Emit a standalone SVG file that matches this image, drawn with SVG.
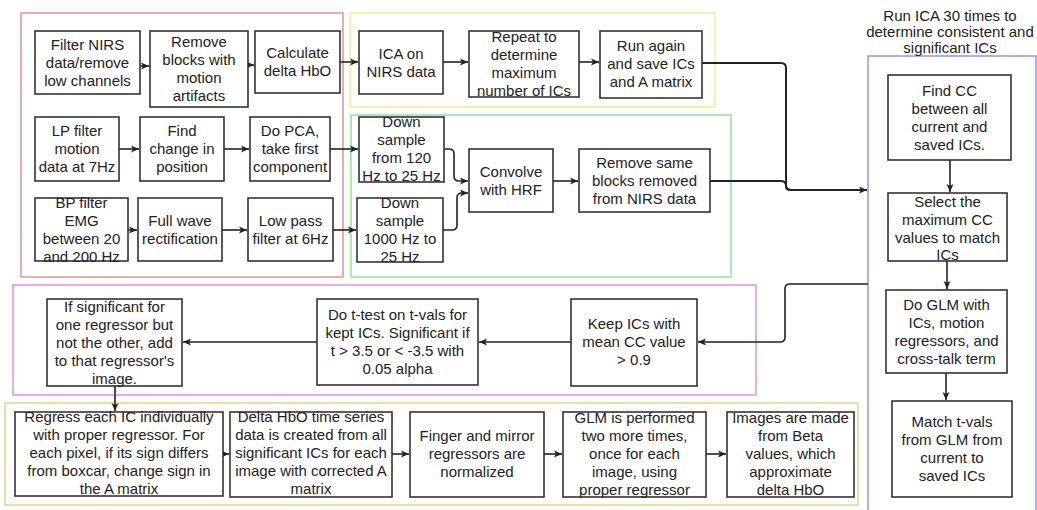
<svg xmlns="http://www.w3.org/2000/svg" width="1037" height="510" viewBox="0 0 1037 510">
<style>
.bg{fill:#ffffff}
.grp{fill:none;stroke-width:1.5}
.box{fill:#ffffff;stroke:#333333;stroke-width:1.6}
.t{font-family:"Liberation Sans",Arial,sans-serif;font-size:15px;fill:#222222;text-anchor:middle}
.c{fill:none;stroke:#222222;stroke-width:1.6}
.cb{fill:none;stroke:#222222;stroke-width:2}
</style>
<defs>
<marker id="ah" markerWidth="9" markerHeight="8" refX="8" refY="4" orient="auto" markerUnits="userSpaceOnUse">
<path d="M0,0.5 L8,4 L0,7.5 L2,4 z" fill="#222222"/>
</marker>
</defs>
<rect class="bg" x="0" y="0" width="1037" height="510"/>

<g id="containers">
<rect id="grp-red" class="grp" x="21" y="13" width="322" height="264" stroke="#e89090"/>
<rect id="grp-yellow" class="grp" x="350" y="13" width="365" height="94" stroke="#f2ee8a"/>
<rect id="grp-green" class="grp" x="351" y="115" width="380" height="162" stroke="#90e690"/>
<rect id="grp-blue" class="grp" x="868" y="56" width="168" height="470" stroke="#9090ff"/>
<rect id="grp-magenta" class="grp" x="13" y="285" width="743" height="110" stroke="#e090e0"/>
<rect id="grp-orange" class="grp" x="5" y="403" width="853" height="102" stroke="#f0d080"/>
<text class="t" x="950" y="21">Run ICA 30 times to</text>
<text class="t" x="950" y="37">determine consistent and</text>
<text class="t" x="950" y="53">significant ICs</text>
</g>

<g id="connectors">
<path class="c" d="M140,66 H149" marker-end="url(#ah)"/>
<path class="c" d="M248,65 H254" marker-end="url(#ah)"/>
<path class="c" d="M340,62 H358" marker-end="url(#ah)"/>
<path class="c" d="M443,62 H468" marker-end="url(#ah)"/>
<path class="c" d="M579,62 H599" marker-end="url(#ah)"/>
<path class="c" d="M119,149 H139" marker-end="url(#ah)"/>
<path class="c" d="M224,149 H249" marker-end="url(#ah)"/>
<path class="c" d="M330,149 H358" marker-end="url(#ah)"/>
<path class="c" d="M128,230 H137" marker-end="url(#ah)"/>
<path class="c" d="M222,230 H247" marker-end="url(#ah)"/>
<path class="c" d="M333,230 H356" marker-end="url(#ah)"/>
<path class="c" d="M444,149 H449 Q454,149 454,154 V176 Q454,181 459,181 H468" marker-end="url(#ah)"/>
<path class="c" d="M443,230 H452 Q457,230 457,225 V198 Q457,193 462,193 H468" marker-end="url(#ah)"/>
<path class="c" d="M553,181 H578" marker-end="url(#ah)"/>
<path class="cb" d="M702,63 H781 Q786,63 786,68 V185 Q786,190 791,190 H867" marker-end="url(#ah)"/>
<path class="cb" d="M710,181 H781 Q786,181 786,186 Q786,190 791,190"/>
<path class="c" d="M950,160 V192" marker-end="url(#ah)"/>
<path class="c" d="M947,261 V289" marker-end="url(#ah)"/>
<path class="c" d="M946,373 V400" marker-end="url(#ah)"/>
<path class="c" d="M868,284 H790 Q785,284 785,289 V337 Q785,342 780,342 H698" marker-end="url(#ah)"/>
<path class="c" d="M571,342 H479" marker-end="url(#ah)"/>
<path class="c" d="M317,342 H183" marker-end="url(#ah)"/>
<path class="c" d="M115,386 V411" marker-end="url(#ah)"/>
<path class="c" d="M223,454 H229" marker-end="url(#ah)"/>
<path class="c" d="M392,454 H409" marker-end="url(#ah)"/>
<path class="c" d="M544,454 H562" marker-end="url(#ah)"/>
<path class="c" d="M706,454 H726" marker-end="url(#ah)"/>
</g>

<g id="n1"><rect class="box" x="35" y="31" width="105" height="63"/>
<text class="t" x="87.5" y="50">Filter NIRS</text><text class="t" x="87.5" y="68">data/remove</text><text class="t" x="87.5" y="86">low channels</text></g>
<g id="n2"><rect class="box" x="150" y="31" width="98" height="76"/>
<text class="t" x="199" y="47">Remove</text><text class="t" x="199" y="65">blocks with</text><text class="t" x="199" y="83">motion</text><text class="t" x="199" y="101">artifacts</text></g>
<g id="n3"><rect class="box" x="255" y="31" width="85" height="62"/>
<text class="t" x="297.5" y="58">Calculate</text><text class="t" x="297.5" y="76">delta HbO</text></g>
<g id="n4"><rect class="box" x="35" y="117" width="84" height="64"/>
<text class="t" x="77" y="136">LP filter</text><text class="t" x="77" y="154">motion</text><text class="t" x="77" y="172">data at 7Hz</text></g>
<g id="n5"><rect class="box" x="140" y="117" width="84" height="64"/>
<text class="t" x="182" y="136">Find</text><text class="t" x="182" y="154">change in</text><text class="t" x="182" y="172">position</text></g>
<g id="n6"><rect class="box" x="250" y="117" width="80" height="64"/>
<text class="t" x="290" y="136">Do PCA,</text><text class="t" x="290" y="154">take first</text><text class="t" x="290" y="172">component</text></g>
<g id="n7"><rect class="box" x="35" y="198" width="93" height="63"/>
<text class="t" x="81.5" y="208">BP filter</text><text class="t" x="81.5" y="226">EMG</text><text class="t" x="81.5" y="244">between 20</text><text class="t" x="81.5" y="262">and 200 Hz</text></g>
<g id="n8"><rect class="box" x="138" y="198" width="84" height="63"/>
<text class="t" x="180" y="226">Full wave</text><text class="t" x="180" y="244">rectification</text></g>
<g id="n9"><rect class="box" x="248" y="198" width="85" height="63"/>
<text class="t" x="290.5" y="226">Low pass</text><text class="t" x="290.5" y="244">filter at 6Hz</text></g>
<g id="n10"><rect class="box" x="359" y="31" width="84" height="63"/>
<text class="t" x="401" y="59">ICA on</text><text class="t" x="401" y="77">NIRS data</text></g>
<g id="n11"><rect class="box" x="469" y="31" width="110" height="66"/>
<text class="t" x="524" y="42">Repeat to</text><text class="t" x="524" y="60">determine</text><text class="t" x="524" y="78">maximum</text><text class="t" x="524" y="96">number of ICs</text></g>
<g id="n12"><rect class="box" x="600" y="31" width="102" height="67"/>
<text class="t" x="651" y="51">Run again</text><text class="t" x="651" y="69">and save ICs</text><text class="t" x="651" y="87">and A matrix</text></g>
<g id="n13"><rect class="box" x="359" y="117" width="85" height="65"/>
<text class="t" x="401.5" y="127">Down</text><text class="t" x="401.5" y="145">sample</text><text class="t" x="401.5" y="163">from 120</text><text class="t" x="401.5" y="181">Hz to 25 Hz</text></g>
<g id="n14"><rect class="box" x="357" y="198" width="86" height="64"/>
<text class="t" x="400" y="208">Down</text><text class="t" x="400" y="226">sample</text><text class="t" x="400" y="244">1000 Hz to</text><text class="t" x="400" y="262">25 Hz</text></g>
<g id="n15"><rect class="box" x="469" y="149" width="84" height="63"/>
<text class="t" x="511" y="177">Convolve</text><text class="t" x="511" y="195">with HRF</text></g>
<g id="n16"><rect class="box" x="579" y="149" width="131" height="63"/>
<text class="t" x="644.5" y="168">Remove same</text><text class="t" x="644.5" y="186">blocks removed</text><text class="t" x="644.5" y="204">from NIRS data</text></g>
<g id="n17"><rect class="box" x="888" y="75" width="123" height="85"/>
<text class="t" x="949.5" y="96">Find CC</text><text class="t" x="949.5" y="114">between all</text><text class="t" x="949.5" y="132">current and</text><text class="t" x="949.5" y="150">saved ICs.</text></g>
<g id="n18"><rect class="box" x="888" y="193" width="119" height="68"/>
<text class="t" x="947.5" y="207">Select the</text><text class="t" x="947.5" y="225">maximum CC</text><text class="t" x="947.5" y="243">values to match</text><text class="t" x="947.5" y="260">ICs</text></g>
<g id="n19"><rect class="box" x="886" y="290" width="121" height="83"/>
<text class="t" x="946.5" y="310">Do GLM with</text><text class="t" x="946.5" y="328">ICs, motion</text><text class="t" x="946.5" y="346">regressors, and</text><text class="t" x="946.5" y="364">cross-talk term</text></g>
<g id="n20"><rect class="box" x="892" y="401" width="120" height="96"/>
<text class="t" x="952" y="427">Match t-vals</text><text class="t" x="952" y="445">from GLM from</text><text class="t" x="952" y="463">current to</text><text class="t" x="952" y="481">saved ICs</text></g>
<g id="n21"><rect class="box" x="571" y="299" width="126" height="87"/>
<text class="t" x="634" y="329">Keep ICs with</text><text class="t" x="634" y="347">mean CC value</text><text class="t" x="634" y="365">&gt; 0.9</text></g>
<g id="n22"><rect class="box" x="317" y="299" width="161" height="86"/>
<text class="t" x="397.5" y="320">Do t-test on t-vals for</text><text class="t" x="397.5" y="338">kept ICs. Significant if</text><text class="t" x="397.5" y="356">t &gt; 3.5 or &lt; -3.5 with</text><text class="t" x="397.5" y="374">0.05 alpha</text></g>
<g id="n23"><rect class="box" x="47" y="299" width="135" height="87"/>
<text class="t" x="114.5" y="312">If significant for</text><text class="t" x="114.5" y="330">one regressor but</text><text class="t" x="114.5" y="348">not the other, add</text><text class="t" x="114.5" y="366">to that regressor's</text><text class="t" x="114.5" y="384">image.</text></g>
<g id="n24"><rect class="box" x="15" y="412" width="208" height="84"/>
<text class="t" x="119" y="422">Regress each IC individually</text><text class="t" x="119" y="440">with proper regressor. For</text><text class="t" x="119" y="458">each pixel, if its sign differs</text><text class="t" x="119" y="476">from boxcar, change sign in</text><text class="t" x="119" y="494">the A matrix</text></g>
<g id="n25"><rect class="box" x="230" y="412" width="162" height="85"/>
<text class="t" x="311" y="422">Delta HbO time series</text><text class="t" x="311" y="440">data is created from all</text><text class="t" x="311" y="458">significant ICs for each</text><text class="t" x="311" y="476">image with corrected A</text><text class="t" x="311" y="494">matrix</text></g>
<g id="n26"><rect class="box" x="410" y="412" width="134" height="85"/>
<text class="t" x="477" y="441">Finger and mirror</text><text class="t" x="477" y="459">regressors are</text><text class="t" x="477" y="477">normalized</text></g>
<g id="n27"><rect class="box" x="563" y="412" width="143" height="85"/>
<text class="t" x="634.5" y="423">GLM is performed</text><text class="t" x="634.5" y="441">two more times,</text><text class="t" x="634.5" y="459">once for each</text><text class="t" x="634.5" y="477">image, using</text><text class="t" x="634.5" y="495">proper regressor</text></g>
<g id="n28"><rect class="box" x="727" y="412" width="127" height="85"/>
<text class="t" x="790.5" y="423">Images are made</text><text class="t" x="790.5" y="441">from Beta</text><text class="t" x="790.5" y="459">values, which</text><text class="t" x="790.5" y="477">approximate</text><text class="t" x="790.5" y="495">delta HbO</text></g>
</svg>
